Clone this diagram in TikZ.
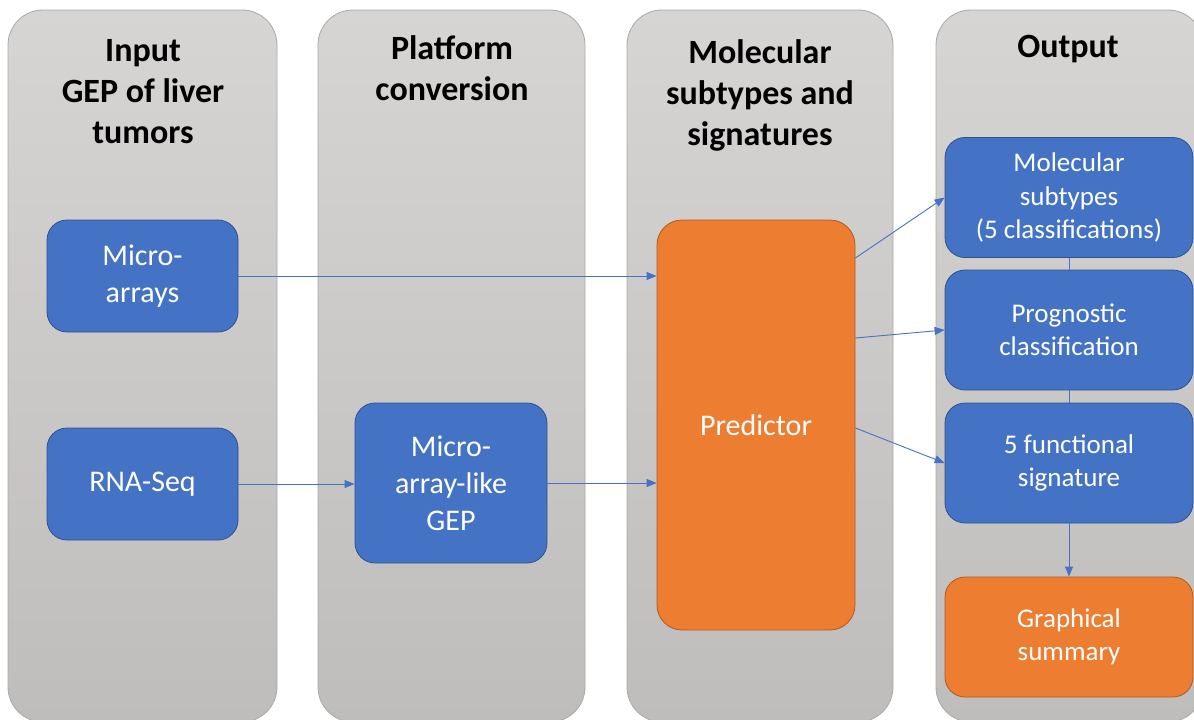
\documentclass[tikz,border=0pt]{standalone}
\usepackage{fontspec}
\setmainfont{Carlito}
\usetikzlibrary{arrows.meta}
\definecolor{colTop}{RGB}{215,213,212}
\definecolor{colBot}{RGB}{191,189,188}
\definecolor{colLine}{RGB}{170,168,167}
\definecolor{boxBlue}{RGB}{68,114,196}
\definecolor{boxBlueDark}{RGB}{47,82,143}
\definecolor{boxOrange}{RGB}{237,125,49}
\definecolor{boxOrangeDark}{RGB}{174,90,33}
\tikzset{%
  column/.style={draw=colLine, line width=0.8pt, rounded corners=35pt,
    top color=colTop, bottom color=colBot},
  header/.style={anchor=north, inner sep=0pt, align=center,
    font=\fontsize{34}{41}\selectfont\bfseries},
  bluebox/.style={draw=boxBlueDark, fill=boxBlue, line width=0.8pt,
    rounded corners=20pt, inner sep=0pt, align=center, text=white,
    font=\fontsize{30}{37}\selectfont},
  outbox/.style={bluebox, minimum width=248pt, minimum height=120pt,
    font=\fontsize{27}{33.5}\selectfont},
  orange/.style={draw=boxOrangeDark, fill=boxOrange},
  link/.style={draw=boxBlue, line width=0.9pt},
  flow/.style={link, -{Triangle[length=10pt,width=8pt]}}
}

\begin{document}
\begin{tikzpicture}[x=1pt, y=-1pt]
    \useasboundingbox (0,0) rectangle (1194,720);
    \clip (0,0) rectangle (1194,720);

    % the four stages
    \draw [column] (8,10) rectangle (277,722);
    \draw [column] (318,10) rectangle (585,722);
    \draw [column] (627,10) rectangle (893,722);
    \draw [column] (936,10) rectangle (1203,722);

    \node [header] (h1) at (143,39) {Input\\GEP of liver\\tumors};
    \node [header] (h2) at (452,35) {Platform\\conversion};
    \node [header] (h3) at (760,39) {Molecular\\subtypes and\\signatures};
    \node [header] (h4) at (1068,35) {Output};

    % boxes
    \node [bluebox, minimum width=191pt, minimum height=112pt] (micro) at (142.5,276) {Micro-\\arrays};
    \node [bluebox, minimum width=191pt, minimum height=112pt] (rnaseq) at (142.5,484) {RNA-Seq};
    \node [bluebox, minimum width=192pt, minimum height=160pt] (like) at (451,483) {Micro-\\array-like\\GEP};
    \node [bluebox, orange, rounded corners=25pt, minimum width=198pt, minimum height=410pt] (pred) at (756,425) {Predictor};

    \node [outbox] (subtypes) at (1069,197.5) {Molecular\\subtypes\\(5 classifications)};
    \node [outbox] (progn) at (1069,330) {Prognostic\\classification};
    \node [outbox] (func) at (1069,463) {5 functional\\signature};
    \node [outbox, orange] (summary) at (1069,637) {Graphical\\summary};

    % connectors
    \draw [flow] (micro.east) -- (pred.west |- micro.east);
    \draw [flow] (rnaseq.east) -- (like.west |- rnaseq.east);
    \draw [flow] (like.east) -- (pred.west |- like.east);
    \draw [flow] ([yshift=167pt]pred.east) -- (subtypes.west);
    \draw [flow] ([yshift=87pt]pred.east) -- (progn.west);
    \draw [flow] ([yshift=-3pt]pred.east) -- (func.west);
    \draw [link] (subtypes.south) -- (progn.north);
    \draw [link] (progn.south) -- (func.north);
    \draw [flow] (func.south) -- (summary.north);
\end{tikzpicture}
\end{document}
